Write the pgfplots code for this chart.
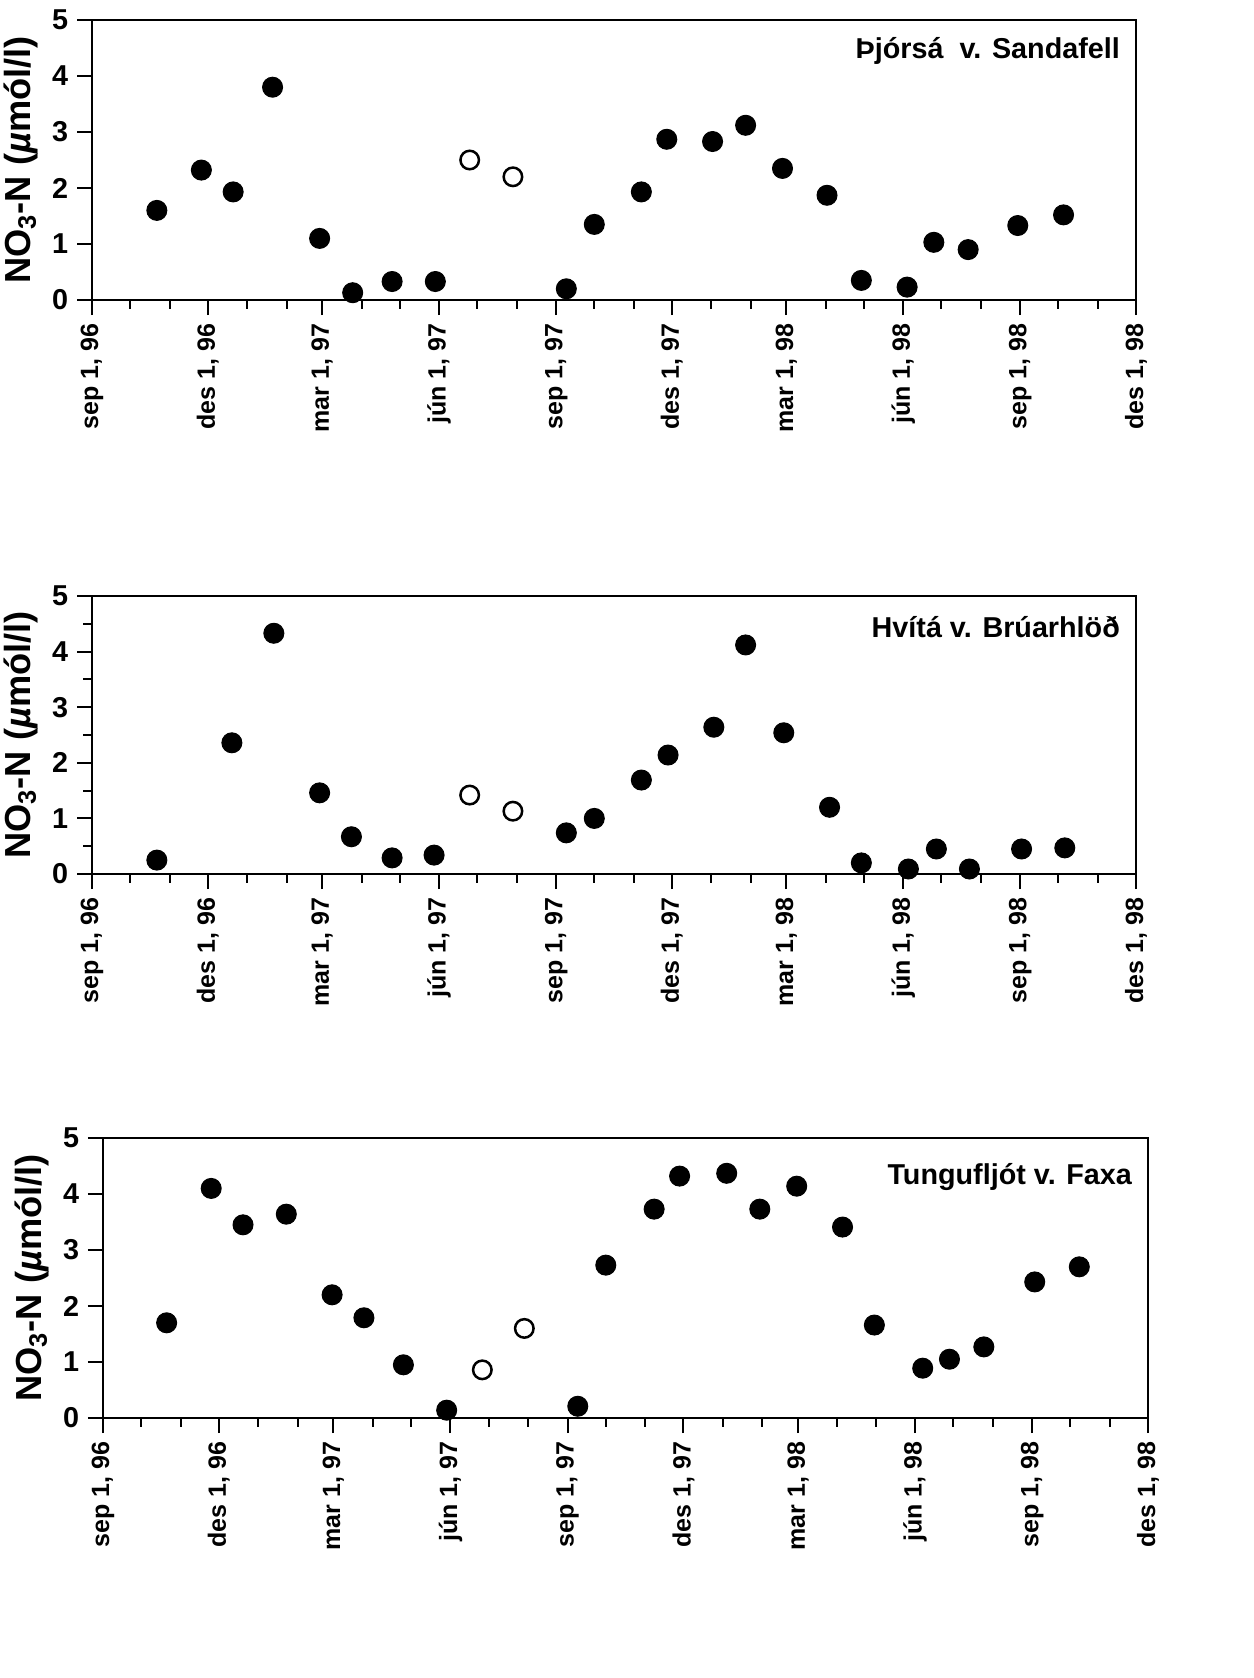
\documentclass[border=0pt]{standalone}
\usepackage{fontspec}
\setmainfont{Liberation Sans}
\usepackage{pgfplots}
\pgfplotsset{compat=1.18}

% x = days since 1 Sep 1996
\pgfplotsset{
  panel/.style={
    scale only axis, anchor=south west,
    xmin=0, xmax=821, ymin=0, ymax=5,
    clip=false,
    axis line style={line width=1pt},
    tick pos=left, tick align=outside,
    major tick length=6pt, minor tick length=3.5pt,
    every tick/.style={black, line width=0.8pt},
    xtick={0,91,181,273,365,456,546,638,730,821},
    minor xtick={30,61,122,153,212,242,303,334,395,426,487,518,577,607,668,699,760,791},
    xticklabels={{sep 1, 96},{des 1, 96},{mar 1, 97},{jún 1, 97},{sep 1, 97},{des 1, 97},{mar 1, 98},{jún 1, 98},{sep 1, 98},{des 1, 98}},
    x tick label style={rotate=90, anchor=east, font=\bfseries\fontsize{10}{12}\selectfont},
    ytick={0,1,2,3,4,5},
    /pgf/number format/assume math mode=true,
    y tick label style={font=\bfseries\fontsize{11.5}{13}\selectfont},
    ylabel={NO\textsubscript{3}-N ({\itshape µ}mól/l)},
    ylabel style={font=\bfseries\fontsize{14.5}{16}\selectfont, at={(axis description cs:-0.068,0.5)}, anchor=center},
  },
  full/.style={only marks, mark=*, mark size=4pt, black},
  open/.style={only marks, mark=o, mark size=3.7pt, black, mark options={line width=1pt}},
}
\tikzset{lbl/.style={font=\bfseries\fontsize{11.5}{13}\selectfont, anchor=east}}

\begin{document}
\begin{tikzpicture}
\path[use as bounding box] (0,0) rectangle (501.2pt,-671.2pt);

\begin{axis}[panel, at={(36.8pt,-120pt)}, width=417.6pt, height=112pt]
\addplot[full] coordinates {(51,1.6) (86,2.32) (111,1.93) (142,3.8) (179,1.1) (205,0.13) (236,0.33) (270,0.33)
 (373,0.2) (395,1.35) (432,1.93) (452,2.87) (488,2.83) (514,3.12) (543,2.35) (578,1.87) (605,0.35) (641,0.23)
 (662,1.03) (689,0.9) (728,1.33) (764,1.52)};
\addplot[open] coordinates {(297,2.5) (331,2.2)};
\node[lbl] at (rel axis cs:0.993,0.89) {Þjórsá\ \ v. Sandafell};
\end{axis}

\begin{axis}[panel, at={(36.8pt,-349.6pt)}, width=417.6pt, height=111.2pt, minor y tick num=1]
\addplot[full] coordinates {(51,0.25) (110,2.36) (143,4.33) (179,1.46) (204,0.67) (236,0.29) (269,0.34)
 (373,0.74) (395,1.0) (432,1.69) (453,2.14) (489,2.64) (514,4.12) (544,2.54) (580,1.2) (605,0.2) (642,0.09)
 (664,0.45) (690,0.09) (731,0.45) (765,0.47)};
\addplot[open] coordinates {(297,1.42) (331,1.13)};
\node[lbl] at (rel axis cs:0.993,0.888) {Hvítá v. Brúarhlöð};
\end{axis}

\begin{axis}[panel, at={(41.2pt,-567.2pt)}, width=418pt, height=112pt]
\addplot[full] coordinates {(50,1.7) (85,4.1) (110,3.45) (144,3.64) (180,2.2) (205,1.79) (236,0.95) (270,0.14)
 (373,0.21) (395,2.73) (433,3.73) (453,4.32) (490,4.37) (516,3.73) (545,4.14) (581,3.41) (606,1.66) (644,0.89)
 (665,1.05) (692,1.27) (732,2.43) (767,2.7)};
\addplot[open] coordinates {(298,0.86) (331,1.6)};
\node[lbl] at (rel axis cs:0.993,0.86) {Tungufljót v. Faxa};
\end{axis}
\end{tikzpicture}
\end{document}
